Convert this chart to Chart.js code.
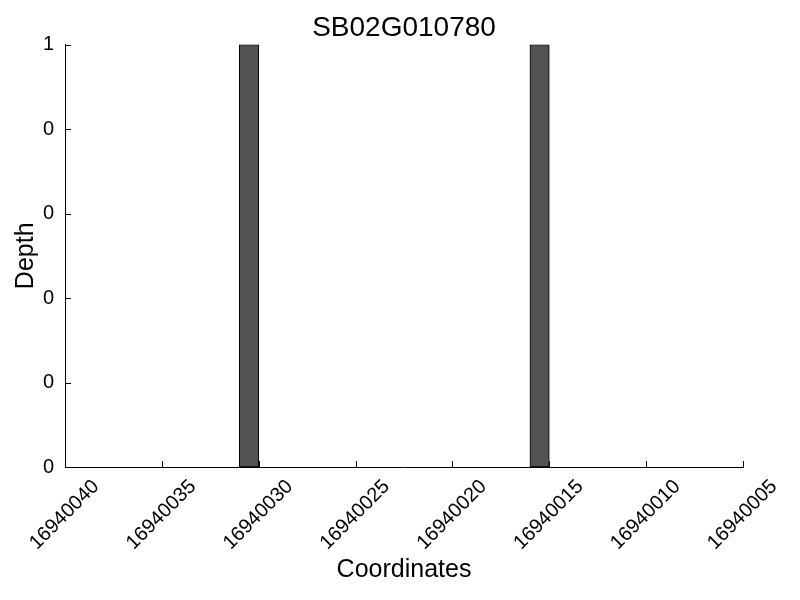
<!DOCTYPE html>
<html>
<head>
<meta charset="utf-8">
<script src="https://cdn.jsdelivr.net/npm/chart.js@4.4.0/dist/chart.umd.min.js"></script>
<style>
  html, body { margin: 0; padding: 0; background: #fff; }
  #wrap { width: 800px; height: 600px; }
</style>
</head>
<body>
<div id="wrap"><canvas id="depth-chart" width="800" height="600"></canvas></div>
<script>
// one bar per base, each bar starts at its coordinate and is 1 base wide
const coordinates = [16940005, 16940006, 16940007, 16940008, 16940009, 16940010, 16940011, 16940012,
                     16940013, 16940014, 16940015, 16940016, 16940017, 16940018, 16940019, 16940020,
                     16940021, 16940022, 16940023, 16940024, 16940025, 16940026, 16940027, 16940028,
                     16940029, 16940030, 16940031, 16940032, 16940033, 16940034, 16940035, 16940036,
                     16940037, 16940038, 16940039];
const depth = [0, 0, 0, 0, 0, 0, 0, 0,
               0, 0, 1, 0, 0, 0, 0, 0,
               0, 0, 0, 0, 0, 0, 0, 0,
               0, 1, 0, 0, 0, 0, 0, 0,
               0, 0, 0];
const xTicks = [16940040, 16940035, 16940030, 16940025, 16940020, 16940015, 16940010, 16940005];
const yTicks = [0, 0.2, 0.4, 0.6, 0.8, 1];
const yTickLabels = ['0', '0', '0', '0', '0', '1'];

const FONT = "'Liberation Sans', Arial, Helvetica, sans-serif";

// small inward tick marks like the original plot
const inwardTicks = {
    id: 'inwardTicks',
    afterDraw: function(chart) {
        const ctx = chart.ctx;
        const x = chart.scales.x, y = chart.scales.y;
        const area = chart.chartArea;
        ctx.save();
        ctx.strokeStyle = '#000';
        ctx.lineWidth = 1;
        ctx.beginPath();
        x.ticks.forEach(function(t) {
            const px = Math.round(x.getPixelForValue(t.value)) + 0.5;
            ctx.moveTo(px, area.bottom);
            ctx.lineTo(px, area.bottom - 6);
        });
        y.ticks.forEach(function(t) {
            const py = Math.round(y.getPixelForValue(t.value)) + 0.5;
            ctx.moveTo(area.left, py);
            ctx.lineTo(area.left + 6, py);
        });
        ctx.stroke();
        ctx.restore();
    }
};

new Chart(document.getElementById('depth-chart'), {
    type: 'bar',
    data: {
        datasets: [{
            label: 'Depth',
            data: coordinates.map(function(c, i) { return {x: c + 0.5, y: depth[i]}; }),
            backgroundColor: '#525252',
            borderColor: '#000000',
            borderWidth: 1,
            borderSkipped: false,
            barPercentage: 1,
            categoryPercentage: 1
        }]
    },
    options: {
        responsive: false,
        animation: false,
        layout: { padding: { right: 57 } },
        plugins: {
            legend: { display: false },
            tooltip: { enabled: false },
            title: {
                display: true,
                fullSize: false,   // center over the plot area, not the canvas
                text: 'SB02G010780',
                color: '#000',
                font: { family: FONT, size: 28, weight: 'normal', lineHeight: 1.2 },
                padding: { top: 11, bottom: 0 }
            }
        },
        scales: {
            x: {
                type: 'linear',
                reverse: true,
                offset: false,
                min: 16940005,
                max: 16940040,
                grid: { display: false },
                border: { display: true, color: '#000', width: 1 },
                afterBuildTicks: function(scale) {
                    scale.ticks = xTicks.map(function(v) { return {value: v}; });
                },
                afterFit: function(scale) { scale.height = 133; },
                ticks: {
                    color: '#000',
                    font: { family: FONT, size: 20 },
                    minRotation: 45,
                    maxRotation: 45,
                    labelOffset: 31,
                    padding: 0,
                    callback: function(v) { return String(v); }
                },
                title: {
                    display: true,
                    text: 'Coordinates',
                    color: '#000',
                    font: { family: FONT, size: 25, lineHeight: 1.2 },
                    padding: { top: 0, bottom: 15 }
                }
            },
            y: {
                min: 0,
                max: 1,
                grid: { display: false },
                border: { display: true, color: '#000', width: 1 },
                afterBuildTicks: function(scale) {
                    scale.ticks = yTicks.map(function(v) { return {value: v}; });
                },
                afterFit: function(scale) { scale.width = 65; },
                ticks: {
                    color: '#000',
                    font: { family: FONT, size: 20 },
                    padding: 3,
                    callback: function(v, i) { return yTickLabels[i]; }
                },
                title: {
                    display: true,
                    text: 'Depth',
                    color: '#000',
                    font: { family: FONT, size: 25, lineHeight: 1.2 },
                    padding: { top: 11, bottom: 0 }
                }
            }
        }
    },
    plugins: [inwardTicks]
});
</script>
</body>
</html>
